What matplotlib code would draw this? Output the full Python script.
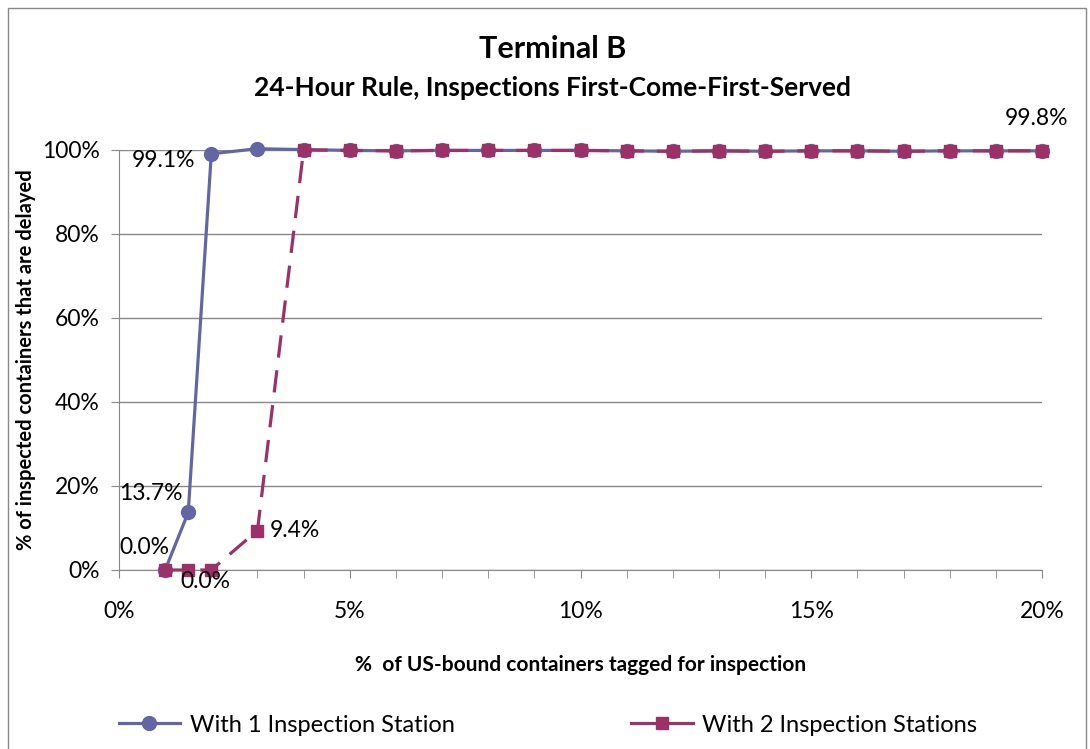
import matplotlib.pyplot as plt
import matplotlib.patches as patches
from matplotlib.lines import Line2D
from matplotlib.ticker import MultipleLocator, FuncFormatter

# data (x in % tagged, y in % delayed)
x_pct = [1, 1.5, 2, 3, 4, 5, 6, 7, 8, 9, 10, 11, 12, 13, 14, 15, 16, 17, 18, 19, 20]
one_station = [0.0, 13.7, 99.1, 100.3, 100.1, 99.9, 99.8, 99.9, 99.9, 99.9, 99.9,
               99.8, 99.7, 99.8, 99.7, 99.8, 99.8, 99.7, 99.8, 99.8, 99.8]
two_stations = [0.0, 0.0, 0.0, 9.4, 100.0, 99.9, 99.8, 99.9, 99.9, 99.9, 99.9,
                99.8, 99.7, 99.8, 99.7, 99.8, 99.8, 99.7, 99.8, 99.8, 99.8]

title = "Terminal B"
subtitle = "24-Hour Rule, Inspections First-Come-First-Served"
xlabel = "%  of US-bound containers tagged for inspection"
ylabel = "% of inspected containers that are delayed"
names = ["With 1 Inspection Station", "With 2 Inspection Stations"]

c1 = "#6466A4"
c2 = "#9B3166"
plt.rcParams["font.family"] = ["Lato", "DejaVu Sans"]

fig = plt.figure(figsize=(10.9, 7.49), dpi=100)
ax = fig.add_axes([119/1090, 1 - 570/749, (1042-119)/1090, (570-150)/749])

ax.plot(x_pct, one_station, color=c1, lw=2.3, marker="o", ms=10, zorder=3, clip_on=False)
ax.plot(x_pct, two_stations, color=c2, lw=2.3, ls=(0, (7, 4)), marker="s", ms=8.5,
        zorder=4, clip_on=False)

ax.set_xlim(0, 20)
ax.set_ylim(0, 100)
ax.xaxis.set_major_locator(MultipleLocator(5))
ax.xaxis.set_minor_locator(MultipleLocator(1))
ax.yaxis.set_major_locator(MultipleLocator(20))
fmt = FuncFormatter(lambda v, p: f"{v:.0f}%")
ax.xaxis.set_major_formatter(fmt)
ax.yaxis.set_major_formatter(fmt)
ax.tick_params(axis="both", which="both", color="#888888", labelsize=16.5, direction="out")
ax.tick_params(axis="both", which="major", length=6)
ax.tick_params(axis="x", which="minor", length=6)
ax.tick_params(axis="x", pad=16)
ax.tick_params(axis="y", pad=8)
ax.yaxis.grid(True, color="#888888", lw=1)
ax.set_axisbelow(True)
for s in ["top", "right"]:
    ax.spines[s].set_visible(False)
for s in ["left", "bottom"]:
    ax.spines[s].set_color("#888888")

ax.set_xlabel(xlabel, fontsize=15, fontweight="bold", labelpad=24)
ax.set_ylabel(ylabel, fontsize=14.5, fontweight="bold", labelpad=4)

fig.text(553/1090, 1 - 49/749, title, ha="center", va="center", fontsize=22, fontweight="bold")
fig.text(553/1090, 1 - 88/749, subtitle, ha="center", va="center", fontsize=19, fontweight="bold")

# data labels
kw = dict(textcoords="offset points", fontsize=16.5, ha="left", va="center", zorder=6)
ax.annotate("0.0%", (x_pct[0], one_station[0]), xytext=(-33, 16), **kw)
ax.annotate("13.7%", (x_pct[1], one_station[1]), xytext=(-50, 14), **kw)
ax.annotate("99.1%", (x_pct[2], one_station[2]), xytext=(-57, -5), **kw)
ax.annotate("0.0%", (x_pct[1], two_stations[1]), xytext=(-6, -8), **kw)
ax.annotate("9.4%", (x_pct[3], two_stations[3]), xytext=(9, 0), **kw)
ax.annotate("99.8%", (x_pct[-1], two_stations[-1]), xytext=(-27, 23), **kw)

handles = [Line2D([], [], color=c1, lw=2.3, marker="o", ms=10),
           Line2D([], [], color=c2, lw=2.3, marker="s", ms=8.5)]
fig.legend(handles, names, loc="center", bbox_to_anchor=(548/1090, 1 - 725/749), ncol=2,
           frameon=False, fontsize=17, columnspacing=7.5, handlelength=2.6, handletextpad=0.4)

fig.patches.append(patches.Rectangle((8/1090, -0.01), 1078/1090, 1 - 8/749 + 0.01,
                                     transform=fig.transFigure, fill=False,
                                     edgecolor="#888888", lw=1))

fig.savefig("out.png", dpi=100)
